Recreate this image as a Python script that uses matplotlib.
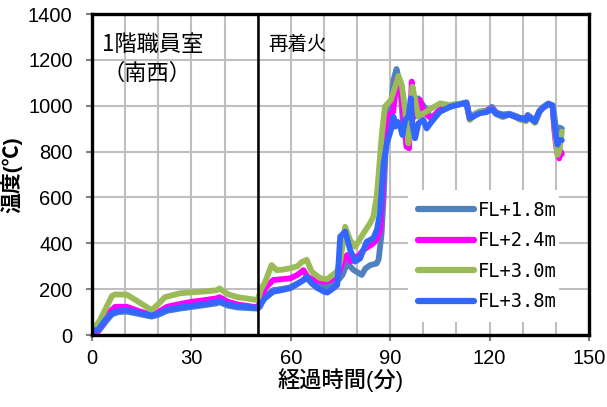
import matplotlib.pyplot as plt
from matplotlib.ticker import MultipleLocator

plt.rcParams['font.family'] = ['Liberation Sans', 'Noto Sans CJK JP', 'DejaVu Sans']

# ======= 各高さの温度データ (経過時間[分], 温度[℃]) =======
t_18 = [0, 2, 4, 6, 8, 10.5, 14, 18, 20, 22.6, 26.5, 30, 34, 37.6, 38.5, 41, 44, 48.7, 50, 50.7,
        52.2, 54.7, 57, 59.8, 62, 64.8, 66.3, 68, 70, 72, 73.9, 75.5, 77, 79, 80.5, 81.4, 82.5,
        84, 85.9, 86.5, 87.4, 88, 88.6, 89.3, 90.2, 91, 91.9, 93, 94, 95, 96, 97, 98.5, 99.5,
        101, 102.5, 105, 108, 110, 113, 114, 116, 117, 119, 120.7, 122, 124, 126, 128, 129,
        131, 131.5, 133.7, 135, 136, 137.7, 139, 139.5, 140, 140.5, 141, 141.8]
T_18 = [15, 18, 55, 90, 100, 102, 92, 80, 88, 105, 115, 122, 130, 138, 143, 128, 120, 116, 115, 123,
        170, 196, 200, 208, 225, 247, 228, 215, 208, 218, 232, 260, 312, 283, 270, 262, 290,
        305, 312, 330, 443, 600, 800, 950, 996, 1112, 1160, 1090, 894, 900, 952, 1000, 1032, 1010,
        980, 940, 975, 995, 1003, 1015, 950, 968, 975, 978, 995, 970, 962, 965, 955, 948,
        945, 960, 935, 978, 993, 1010, 1002, 960, 900, 880, 905, 900]

t_24 = [0, 1.6, 3.4, 5.4, 7, 10.5, 14, 18, 20, 22.6, 26.5, 30, 34, 37.6, 38.5, 41, 44, 48.7, 50, 51,
        52.2, 54.7, 57, 59.8, 62, 63.8, 65, 67, 70, 72, 74, 75.9, 77, 78, 79.4, 80.5, 81.9, 84.9,
        86, 87, 87.6, 88.2, 89, 90.9, 91.9, 93, 94, 94.9, 95.7, 96.5, 97.5, 99, 100, 101, 102.5,
        105, 108, 110, 113, 114, 116, 117, 119, 120.7, 122, 124, 126, 128, 129, 131, 131.5,
        133.7, 135, 136, 137.7, 139, 139.5, 140, 140.5, 141, 141.5, 141.8]
T_24 = [10, 15, 51, 102, 123, 123, 105, 87, 100, 123, 135, 145, 152, 160, 165, 145, 133, 123, 122, 150,
        204, 240, 243, 247, 262, 283, 254, 240, 232, 240, 254, 327, 349, 320, 340, 345, 371, 400,
        420, 460, 600, 800, 952, 974, 1112, 1090, 952, 821, 814, 1105, 952, 1025, 975, 960, 945,
        985, 1000, 1005, 1010, 940, 965, 972, 975, 988, 964, 952, 962, 950, 942, 935, 955,
        928, 972, 990, 1005, 1000, 900, 830, 790, 770, 800, 790]

t_30 = [0, 2.4, 4.4, 6, 7, 10.5, 14, 18, 20, 22, 26.5, 30, 34, 37.6, 38.5, 41, 44, 48.7, 50, 51,
        52.2, 54.2, 55.7, 57.5, 59.8, 62, 63.3, 64.8, 66.3, 68.8, 71, 73.9, 75, 76.4, 77.9, 79.4,
        80.5, 81.9, 83.9, 84.9, 85.9, 86.5, 87.4, 88.4, 90.2, 91.5, 92.5, 93.5, 94.5, 95.5, 96,
        96.7, 97.5, 98.5, 100, 101, 102.5, 105, 108, 110, 113, 114, 116, 117, 119, 120.7, 122,
        124, 126, 128, 129, 131, 131.5, 133.7, 135, 136, 137.7, 139, 139.5, 140, 140.5, 141, 141.8]
T_30 = [15, 65, 123, 170, 177, 176, 145, 108, 135, 165, 182, 186, 190, 195, 203, 178, 165, 155, 152, 200,
        230, 305, 283, 285, 291, 300, 318, 328, 276, 248, 244, 276, 330, 472, 414, 385,
        410, 443, 487, 516, 600, 700, 865, 996, 1025, 1083, 1130, 1090, 981, 836, 920,
        1083, 1025, 952, 967, 975, 989, 1010, 1003, 1008, 1010, 938, 967, 974, 974, 985, 962,
        950, 962, 950, 940, 932, 952, 925, 970, 992, 1005, 1000, 930, 850, 785, 800, 887]

t_38 = [0, 2, 4, 6, 8, 10.5, 14, 18, 20, 22.6, 26.5, 30, 34, 37.6, 38.5, 41, 44, 48.7, 50, 50.2,
        52.2, 54.7, 57, 59.8, 62, 63.8, 64.8, 66.3, 68, 70, 71, 72.5, 74, 74.9, 76.4, 77.9, 79.4,
        80.9, 82.9, 84.9, 86, 86.9, 88, 89, 90.2, 91, 91.5, 92.2, 93, 93.7, 94.5, 95.5, 96.2,
        96.7, 97.5, 98.5, 100, 101, 102.5, 105, 108, 110, 113, 114, 116, 117, 119, 120.7, 122,
        124, 126, 128, 129, 131, 131.5, 133.7, 135, 136, 137.7, 139, 139.3, 140, 140.5, 141, 141.8]
T_38 = [15, 25, 65, 95, 105, 107, 97, 85, 93, 110, 120, 127, 135, 143, 148, 133, 125, 120, 118, 123,
        160, 189, 195, 204, 222, 240, 254, 225, 205, 189, 185, 200, 218, 429, 451, 371, 320,
        334, 407, 422, 460, 531, 749, 836, 894, 952, 909, 930, 909, 872, 938, 952, 1032,
        916, 858, 923, 938, 901, 930, 974, 995, 1003, 1013, 945, 960, 967, 972, 985, 965,
        955, 962, 950, 945, 938, 955, 930, 974, 990, 1007, 1000, 950, 870, 830, 850, 850]

series = [
    (t_18, T_18, 'FL+1.8m', '#4F81BD'),
    (t_24, T_24, 'FL+2.4m', '#FF00FF'),
    (t_30, T_30, 'FL+3.0m', '#9BBB59'),
    (t_38, T_38, 'FL+3.8m', '#3366FF'),
]
# =====================================

fig = plt.figure(figsize=(6.07, 4.07), dpi=100)
ax = fig.add_axes([0.1516, 0.1769, 0.8188, 0.7887])

for t, T, label, color in series:
    ax.plot(t, T, color=color, lw=4.2, label=label, solid_capstyle='round',
            solid_joinstyle='round')

# 再着火の時刻
ax.axvline(50, color='black', lw=1.8, zorder=3)

ax.set_xlim(0, 150)
ax.set_ylim(0, 1400)
ax.xaxis.set_major_locator(MultipleLocator(30))
ax.xaxis.set_minor_locator(MultipleLocator(10))
ax.yaxis.set_major_locator(MultipleLocator(200))
ax.grid(True, which='both', color='#BFBFBF', lw=1.5)
ax.set_axisbelow(True)
ax.tick_params(which='major', direction='out', length=4, width=1.5, color='#808080',
               labelsize=14.5)
ax.tick_params(axis='y', pad=10)
ax.tick_params(axis='x', pad=6)
ax.tick_params(which='minor', length=0)
for s in ax.spines.values():
    s.set_linewidth(2.4)

ax.set_xlabel('経過時間(分)', fontsize=16, fontweight='medium', labelpad=0)
ax.set_ylabel('温度(℃)', fontsize=15, fontweight='bold', labelpad=4)

ax.text(0.021, 0.905, '1階職員室', transform=ax.transAxes, fontsize=16,
        family=['Noto Sans CJK JP'], va='center')
ax.text(0.021, 0.815, '（南西）', transform=ax.transAxes, fontsize=16,
        family=['Noto Sans CJK JP'], va='center')
ax.text(0.355, 0.905, '再着火', transform=ax.transAxes, fontsize=14,
        family=['Noto Sans CJK JP'], va='center')

leg = ax.legend(loc='upper left', bbox_to_anchor=(0.616, 0.48, 0.342, 0.0), mode='expand',
                frameon=True, fancybox=False, edgecolor='none', facecolor='white',
                framealpha=1, handlelength=3.0, handletextpad=0.2, labelspacing=0.62,
                borderpad=0.55, prop={'family': ['DejaVu Sans Mono'], 'size': 13.5})
for h in leg.get_lines():
    h.set_linewidth(4.5)

fig.savefig('out.png', dpi=100)
